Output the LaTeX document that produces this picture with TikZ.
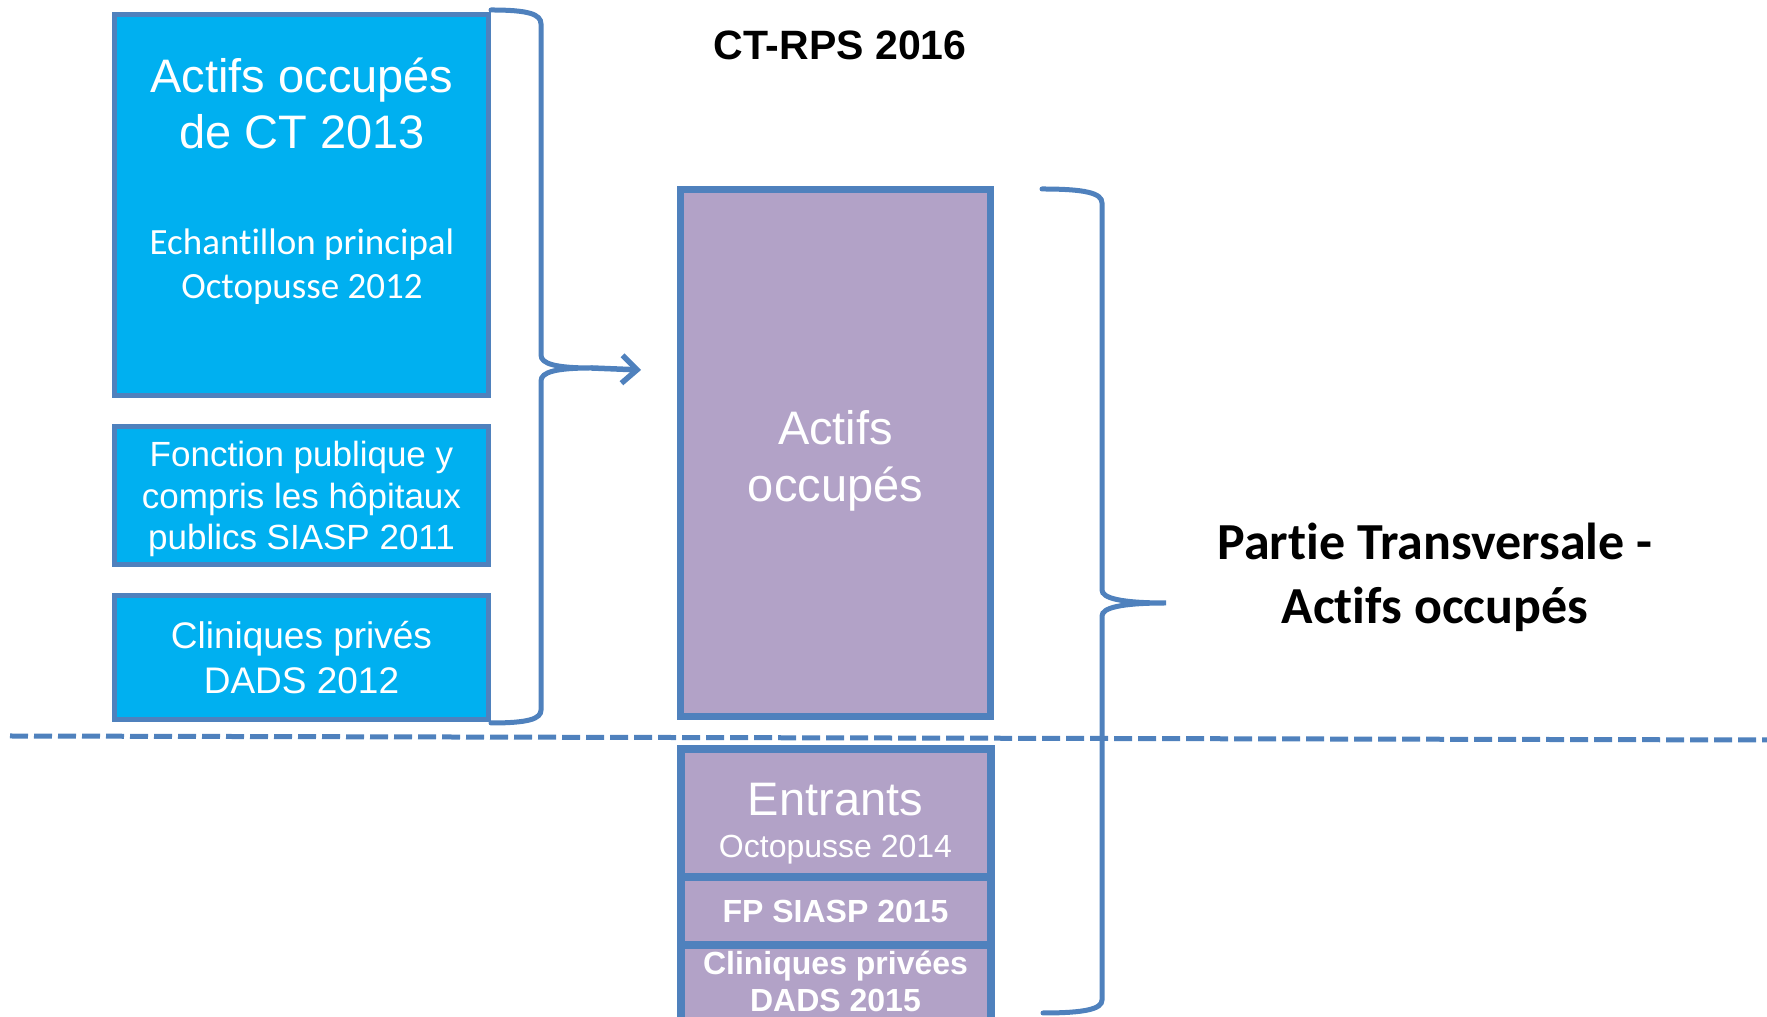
\documentclass[tikz,border=0pt]{standalone}
\usepackage{fontspec}
\setmainfont{Liberation Sans}
\newfontfamily\carlito[Ligatures=NoCommon]{Carlito}
\usetikzlibrary{arrows.meta}
\definecolor{lineblue}{HTML}{4F81BD}
\definecolor{boxblue}{HTML}{00B0F0}
\definecolor{boxpurple}{HTML}{B2A2C7}
\def\fs#1#2{\fontsize{#1}{#2}\selectfont}

\begin{document}
\begin{tikzpicture}[x=1pt,y=1pt,
	srcbox/.style={draw=lineblue, line width=5pt, fill=boxblue, minimum width=374pt, inner sep=0pt, text=white, align=center},
	rpsbox/.style={draw=lineblue, fill=boxpurple, minimum width=310pt, inner sep=0pt, text=white, align=center},
	brace/.style={draw=lineblue, line width=5pt, line cap=round},
	wtext/.style={text=white, align=center, inner sep=0pt}]
		%%%%% START %%%%%
		\useasboundingbox (0,0) rectangle (1767,1017);
		
		\node[font=\bfseries\fs{41}{49}] (title) at (840,972) {CT-RPS 2016};
		
		% sources
		\node[srcbox, minimum height=381pt] (ct) at (301.5,812) {};
		\node[wtext, font=\fs{47}{56}] (cttitle) at (302,913.5) {Actifs occupés\\de CT 2013};
		\node[wtext, font=\carlito\fs{37}{44}] (ctsub) at (302,750) {Echantillon principal\\Octopusse 2012};
		\node[srcbox, minimum height=138pt] (fp) at (301.5,521.5) {};
		\node[wtext, font=\fs{35}{41.5}] (fpt) at (301.5,518) {Fonction publique y\\compris les hôpitaux\\publics SIASP 2011};
		\node[srcbox, minimum height=124pt, font=\fs{37}{45}] (clin) at (301.5,359.5) {Cliniques privés\\DADS 2012};
		
		% CT-RPS
		\node[rpsbox, line width=7.5pt, minimum height=527pt] (actifs) at (835.5,564) {};
		\node[wtext, font=\fs{47}{57}] (actifst) at (835.5,556) {Actifs\\occupés};
		\node[rpsbox, line width=8pt, minimum height=128pt] (entr) at (835.5,204) {};
		\node[wtext, anchor=base, font=\fs{47}{56}] (entrt) at (835.5,201) {Entrants};
		\node[wtext, anchor=base, font=\fs{32}{38}] (entrs) at (835.5,159.5) {Octopusse 2014};
		\node[rpsbox, line width=8pt, minimum height=68pt, font=\bfseries\fs{32}{38}] (fp15) at (835.5,106) {FP SIASP 2015};
		\node[rpsbox, line width=8pt, minimum height=95pt] (clin15) at (835.5,24.5) {};
		\node[wtext, font=\bfseries\fs{32}{37}] (clin15t) at (835.5,35.5) {Cliniques privées\\DADS 2015};
		
		% braces
		\coordinate (ltip) at (592,649);
		\coordinate (larrow) at (641,647);
		\draw[brace] (491,1007) .. controls (528,1007) and (541,1003) .. (541,993) -- (541,662)
			.. controls (541,653) and (556,649) .. (ltip)
			.. controls (556,649) and (541,645) .. (541,636) -- (541,307)
			.. controls (541,298) and (528,294) .. (491,294);
		\draw[brace, line width=5.5pt, -{Straight Barb[length=15pt,width=28pt]}] (ltip) -- (larrow);
		
		\coordinate (rtip) at (1166,414);
		\draw[brace] (1042,828) .. controls (1085,828) and (1102,824) .. (1102,814) -- (1102,427)
			.. controls (1102,419) and (1120,414) .. (rtip)
			.. controls (1120,414) and (1102,409) .. (1102,401) -- (1102,17)
			.. controls (1102,8) and (1085,4) .. (1043,4);
		
		\node[align=center, font=\carlito\bfseries\fs{52}{64}] (partie) at (1435,440) {Partie Transversale -\\Actifs occupés};
		
		% dashed separator
		\coordinate (dl) at (10,281);
		\coordinate (dr) at (1767,277);
		\draw[lineblue, line width=5pt, dash pattern=on 18pt off 6pt] (dl) -- (dr);
		
		%%%%% END %%%%%
	\end{tikzpicture}
\end{document}
